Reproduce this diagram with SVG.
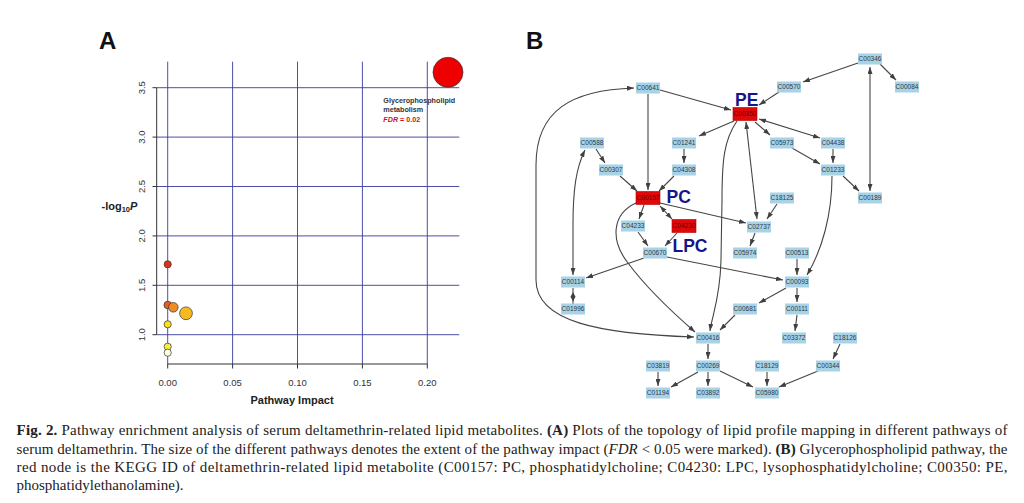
<svg xmlns="http://www.w3.org/2000/svg" width="1024" height="503" viewBox="0 0 1024 503">
<defs>
<marker id="ah" viewBox="0 0 7 5" markerWidth="7" markerHeight="5" refX="7" refY="2.5" orient="auto-start-reverse" markerUnits="userSpaceOnUse"><path d="M0,0 L7,2.5 L0,5 z" fill="#404040"/></marker>
</defs>
<style>
.grid{stroke:#3a3aa0;stroke-width:0.9;fill:none}
.axis{stroke:#333;stroke-width:1;fill:none}
.tick{font-family:"Liberation Sans",Arial,sans-serif;font-size:9.5px;fill:#333}
.pt{stroke:#333;stroke-width:0.7}
.n rect{fill:#a8d2e6}
.n text,.r text{font-family:"Liberation Sans",Arial,sans-serif;font-size:6.5px;text-anchor:middle;fill:#2a3a4a}
.r rect{fill:#e00808;stroke:#b00000;stroke-width:0.6}
.r text{fill:#6a0000}
.big{font-family:"Liberation Sans",Arial,sans-serif;font-weight:bold;font-size:17.5px;fill:#15158a}
.e{stroke:#454545;stroke-width:1.1;fill:none;marker-end:url(#ah)}
.d{marker-start:url(#ah)}
.cap{font-family:"Liberation Serif","Times New Roman",serif;font-size:15px;fill:#222}
.panel{font-family:"Liberation Sans",Arial,sans-serif;font-weight:bold;font-size:24px;fill:#111}
</style>
<rect width="1024" height="503" fill="#fff"/>

<!-- Panel A -->
<g id="panelA">
<text class="panel" x="99" y="49">A</text>
<g id="grid">
<line class="grid" x1="167.7" y1="61.7" x2="167.7" y2="364"/>
<line class="grid" x1="232.6" y1="61.7" x2="232.6" y2="364"/>
<line class="grid" x1="297.5" y1="61.7" x2="297.5" y2="364"/>
<line class="grid" x1="362.4" y1="61.7" x2="362.4" y2="364"/>
<line class="grid" x1="427.3" y1="61.7" x2="427.3" y2="364"/>
<line class="grid" x1="156.7" y1="87.7" x2="459.3" y2="87.7"/>
<line class="grid" x1="156.7" y1="137.1" x2="459.3" y2="137.1"/>
<line class="grid" x1="156.7" y1="186.5" x2="459.3" y2="186.5"/>
<line class="grid" x1="156.7" y1="235.9" x2="459.3" y2="235.9"/>
<line class="grid" x1="156.7" y1="285.3" x2="459.3" y2="285.3"/>
<line class="grid" x1="156.7" y1="334.7" x2="459.3" y2="334.7"/>
</g>
<g id="axes">
<path class="axis" d="M156.7,87.7 V334.7 M152.5,87.7 H156.7 M152.5,137.1 H156.7 M152.5,186.5 H156.7 M152.5,235.9 H156.7 M152.5,285.3 H156.7 M152.5,334.7 H156.7"/>
<path class="axis" d="M167.7,364 H427.3 M167.7,364 V368.5 M232.6,364 V368.5 M297.5,364 V368.5 M362.4,364 V368.5 M427.3,364 V368.5"/>
<g class="tick" text-anchor="middle">
<text x="167.7" y="386">0.00</text>
<text x="232.6" y="386">0.05</text>
<text x="297.5" y="386">0.10</text>
<text x="362.4" y="386">0.15</text>
<text x="427.3" y="386">0.20</text>
<text transform="translate(144.5,87.7) rotate(-90)">3.5</text>
<text transform="translate(144.5,137.1) rotate(-90)">3.0</text>
<text transform="translate(144.5,186.5) rotate(-90)">2.5</text>
<text transform="translate(144.5,235.9) rotate(-90)">2.0</text>
<text transform="translate(144.5,285.3) rotate(-90)">1.5</text>
<text transform="translate(144.5,334.7) rotate(-90)">1.0</text>
</g>
<text x="292" y="403.5" text-anchor="middle" font-family="Liberation Sans,Arial,sans-serif" font-weight="bold" font-size="11" fill="#222">Pathway Impact</text>
<text x="101.5" y="209.5" font-family="Liberation Sans,Arial,sans-serif" font-weight="bold" font-size="11" fill="#222">-log<tspan font-size="7.5" dy="2">10</tspan><tspan font-style="italic" dy="-2">P</tspan></text>
</g>
<g id="points">
<circle cx="448" cy="72.3" r="15" fill="#ee0000" class="pt"/>
<circle cx="167.7" cy="264.3" r="3.6" fill="#e0301a" class="pt"/>
<circle cx="167.7" cy="305" r="3.8" fill="#e06020" class="pt"/>
<circle cx="173.3" cy="307.3" r="4.8" fill="#f08a22" class="pt"/>
<circle cx="186" cy="313.3" r="6.4" fill="#f7b822" class="pt"/>
<circle cx="167.7" cy="324.3" r="3.6" fill="#f6e020" class="pt"/>
<circle cx="167.7" cy="346.7" r="3.6" fill="#f4ec4a" class="pt"/>
<circle cx="167.7" cy="352.7" r="3.6" fill="#fffbe0" class="pt"/>
</g>
<g id="annotation" font-family="Liberation Sans,Arial,sans-serif" font-weight="bold" font-size="7.2">
<text x="383.3" y="103.3" fill="#333">Glycerophospholipid</text>
<text x="383.3" y="111.7" fill="#333">metabolism</text>
<text x="383.3" y="122.3" fill="#d01020"><tspan font-style="italic">FDR</tspan> = 0.02</text>
</g>
</g>

<!-- Panel B -->
<text class="panel" x="526" y="49">B</text>
<g id="connectors">
<path class="e" d="M858,63 L803,82"/>
<path class="e" d="M880,64 L896,80"/>
<path class="e" d="M779,92 L759,105"/>
<path class="e" d="M660,90 L731,110"/>
<path class="e" d="M648,94 L648,190"/>
<path class="e" d="M734,121 L699,136"/>
<path class="e" d="M755,122 L770,135"/>
<path class="e d" d="M759,119 L820,138"/>
<path class="e" d="M833,149 L833,163"/>
<path class="e" d="M792,148 L820,164"/>
<path class="e" d="M843,176 L859,191"/>
<path class="e d" d="M870,67 L870,191"/>
<path class="e d" d="M746,122 L757,219"/>
<path class="e" d="M777,204 L767,219"/>
<path class="e" d="M737,121 C724,140 722,160 722,200 L721,260 C720,300 712,315 710,331"/>
<path class="e" d="M832,176 C832,215 822,250 807,275"/>
<path class="e" d="M596,149 L605,163"/>
<path class="e" d="M620,176 L637,191"/>
<path class="e" d="M674,176 L659,191"/>
<path class="e" d="M684,149 L684,163"/>
<path class="e" d="M644,205 L639,219"/>
<path class="e d" d="M660,206 L672,219"/>
<path class="e" d="M660,203 L746,223"/>
<path class="e" d="M638,232 L648,246"/>
<path class="e" d="M677,233 L665,246"/>
<path class="e" d="M644,258 L586,278"/>
<path class="e" d="M667,257 L783,280"/>
<path class="e" d="M636,203 C612,214 610,240 628,263 C648,290 672,312 695,332"/>
<path class="e d" d="M585,150 C576,168 573,190 573,225 L573,275"/>
<path class="e d" d="M634,88 C572,90 536,110 536,165 L536,280 C536,322 600,334 694,337"/>
<path d="M573,288 V305" stroke="#454545" stroke-width="1.1"/>
<polygon points="573,292 575.5,296.7 573,301.4 570.5,296.7" fill="#404040"/>
<path class="e" d="M797,259 L797,275"/>
<path class="e" d="M786,288 L759,303"/>
<path class="e" d="M797,288 L797,302"/>
<path class="e" d="M797,315 L795,331"/>
<path class="e" d="M735,315 L720,330"/>
<path class="e" d="M708,344 L708,359"/>
<path class="e" d="M698,372 L671,387"/>
<path class="e" d="M708,372 L708,386"/>
<path class="e" d="M720,371 L753,387"/>
<path class="e" d="M658,372 L658,386"/>
<path class="e" d="M767,372 L767,386"/>
<path class="e" d="M818,371 L779,387"/>
<path class="e" d="M840,344 L833,359"/>
<path class="e" d="M755,233 L750,246"/>
</g>

<g id="C00346" class="n"><rect x="858" y="53.5" width="24" height="11"/><text x="870" y="61.3">C00346</text></g>
<g id="C00084" class="n"><rect x="895" y="81.5" width="24" height="11"/><text x="907" y="89.3">C00084</text></g>
<g id="C00570" class="n"><rect x="777" y="81.5" width="24" height="11"/><text x="789" y="89.3">C00570</text></g>
<g id="C00641" class="n"><rect x="636" y="82.5" width="24" height="11"/><text x="648" y="90.3">C00641</text></g>
<g id="C00350" class="r"><rect x="733" y="107.5" width="24" height="13"/><text x="745" y="116.3">C00350</text></g>
<g id="C00588" class="n"><rect x="580" y="137.5" width="24" height="11"/><text x="592" y="145.3">C00588</text></g>
<g id="C01241" class="n"><rect x="672" y="137.5" width="24" height="11"/><text x="684" y="145.3">C01241</text></g>
<g id="C05973" class="n"><rect x="770" y="137.5" width="24" height="11"/><text x="782" y="145.3">C05973</text></g>
<g id="C04438" class="n"><rect x="821" y="137.5" width="24" height="11"/><text x="833" y="145.3">C04438</text></g>
<g id="C00307" class="n"><rect x="599" y="164.5" width="24" height="11"/><text x="611" y="172.3">C00307</text></g>
<g id="C04308" class="n"><rect x="672" y="164.5" width="24" height="11"/><text x="684" y="172.3">C04308</text></g>
<g id="C01233" class="n"><rect x="821" y="164.5" width="24" height="11"/><text x="833" y="172.3">C01233</text></g>
<g id="C00157" class="r"><rect x="636" y="191.5" width="24" height="13"/><text x="648" y="200.3">C00157</text></g>
<g id="C18125" class="n"><rect x="770" y="192.5" width="24" height="11"/><text x="782" y="200.3">C18125</text></g>
<g id="C00189" class="n"><rect x="858" y="192.5" width="24" height="11"/><text x="870" y="200.3">C00189</text></g>
<g id="C04233" class="n"><rect x="621" y="220.5" width="24" height="11"/><text x="633" y="228.3">C04233</text></g>
<g id="C04230" class="r"><rect x="672" y="219.5" width="24" height="13"/><text x="684" y="228.3">C04230</text></g>
<g id="C02737" class="n"><rect x="747" y="221.5" width="24" height="11"/><text x="759" y="229.3">C02737</text></g>
<g id="C00670" class="n"><rect x="643" y="247.5" width="24" height="11"/><text x="655" y="255.3">C00670</text></g>
<g id="C05974" class="n"><rect x="733" y="247.5" width="24" height="11"/><text x="745" y="255.3">C05974</text></g>
<g id="C00513" class="n"><rect x="785" y="247.5" width="24" height="11"/><text x="797" y="255.3">C00513</text></g>
<g id="C00114" class="n"><rect x="561" y="276.5" width="24" height="11"/><text x="573" y="284.3">C00114</text></g>
<g id="C00093" class="n"><rect x="785" y="276.5" width="24" height="11"/><text x="797" y="284.3">C00093</text></g>
<g id="C01996" class="n"><rect x="561" y="303.5" width="24" height="11"/><text x="573" y="311.3">C01996</text></g>
<g id="C00681" class="n"><rect x="733" y="303.5" width="24" height="11"/><text x="745" y="311.3">C00681</text></g>
<g id="C00111" class="n"><rect x="785" y="303.5" width="24" height="11"/><text x="797" y="311.3">C00111</text></g>
<g id="C00416" class="n"><rect x="696" y="332.5" width="24" height="11"/><text x="708" y="340.3">C00416</text></g>
<g id="C03372" class="n"><rect x="782" y="332.5" width="24" height="11"/><text x="794" y="340.3">C03372</text></g>
<g id="C18126" class="n"><rect x="833" y="332.5" width="24" height="11"/><text x="845" y="340.3">C18126</text></g>
<g id="C03819" class="n"><rect x="646" y="360.5" width="24" height="11"/><text x="658" y="368.3">C03819</text></g>
<g id="C00269" class="n"><rect x="696" y="360.5" width="24" height="11"/><text x="708" y="368.3">C00269</text></g>
<g id="C18129" class="n"><rect x="755" y="360.5" width="24" height="11"/><text x="767" y="368.3">C18129</text></g>
<g id="C00344" class="n"><rect x="816" y="360.5" width="24" height="11"/><text x="828" y="368.3">C00344</text></g>
<g id="C01194" class="n"><rect x="646" y="387.5" width="24" height="11"/><text x="658" y="395.3">C01194</text></g>
<g id="C03892" class="n"><rect x="696" y="387.5" width="24" height="11"/><text x="708" y="395.3">C03892</text></g>
<g id="C05980" class="n"><rect x="755" y="387.5" width="24" height="11"/><text x="767" y="395.3">C05980</text></g>

<g id="labels">
<text class="big" x="735" y="106">PE</text>
<text class="big" x="666.5" y="202.7">PC</text>
<text class="big" x="672.5" y="251.7">LPC</text>
</g>

<g id="caption" class="cap">
<text x="16.5" y="435.2" textLength="991" lengthAdjust="spacing"><tspan font-weight="bold">Fig. 2.</tspan> Pathway enrichment analysis of serum deltamethrin-related lipid metabolites. <tspan font-weight="bold">(A)</tspan> Plots of the topology of lipid profile mapping in different pathways of</text>
<text x="16.5" y="453.5" textLength="991" lengthAdjust="spacing">serum deltamethrin. The size of the different pathways denotes the extent of the pathway impact (<tspan font-style="italic">FDR</tspan> &lt; 0.05 were marked). <tspan font-weight="bold">(B)</tspan> Glycerophospholipid pathway, the</text>
<text x="16.5" y="471.8" textLength="991" lengthAdjust="spacing">red node is the KEGG ID of deltamethrin-related lipid metabolite (C00157: PC, phosphatidylcholine; C04230: LPC, lysophosphatidylcholine; C00350: PE,</text>
<text x="16.5" y="490">phosphatidylethanolamine).</text>
</g>
</svg>
